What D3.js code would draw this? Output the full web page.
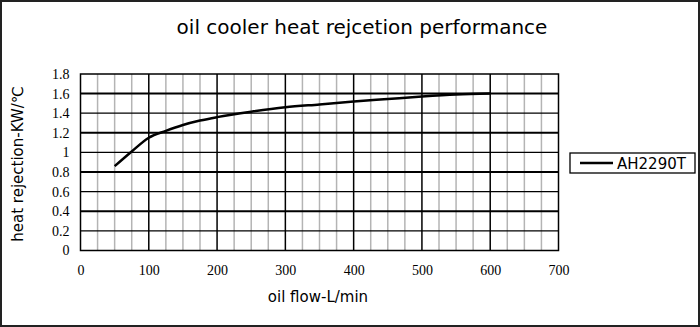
<!DOCTYPE html>
<html>
<head>
<meta charset="utf-8">
<script src="https://cdn.jsdelivr.net/npm/d3@7"></script>
<style>
  html, body { margin: 0; padding: 0; background: #fff; }
  svg { display: block; }
</style>
</head>
<body>
<script>
// Heat rejection curve of the AH2290T oil cooler
const flow = [50, 75, 100, 125, 150, 175, 200, 250, 300, 350, 400, 450, 500, 550, 600];
const heatRejection = [0.86, 1.01, 1.15, 1.22, 1.28, 1.325, 1.36, 1.415, 1.46, 1.49, 1.52, 1.545, 1.57, 1.59, 1.60];
const xTicks = [0, 100, 200, 300, 400, 500, 600, 700];
const yTicks = [0, 0.2, 0.4, 0.6, 0.8, 1, 1.2, 1.4, 1.6, 1.8];
const seriesName = "AH2290T";

const W = 700, H = 327;
const plot = { left: 80.5, right: 558.5, top: 74, bottom: 250.5 };

const svg = d3.select("body").append("svg").attr("width", W).attr("height", H);

// outer frame
svg.append("rect").attr("x", 1).attr("y", 1).attr("width", W - 2).attr("height", H - 2)
  .attr("fill", "#fff").attr("stroke", "#222").attr("stroke-width", 2);

const x = d3.scaleLinear().domain([0, 700]).range([plot.left, plot.right]);
const y = d3.scaleLinear().domain([0, 1.8]).range([plot.bottom, plot.top]);

const grid = svg.append("g");

// minor vertical grid every 25 L/min
d3.range(25, 700, 25).filter(v => v % 100 !== 0).forEach(v => {
  grid.append("line").attr("x1", x(v)).attr("x2", x(v)).attr("y1", y(0)).attr("y2", y(1.8))
    .attr("stroke", "#b4b4b4").attr("stroke-width", 1.5);
});
// horizontal grid
yTicks.slice(1, -1).forEach(v => {
  const thick = Math.round(v * 10) % 4 === 0;
  grid.append("line").attr("x1", x(0)).attr("x2", x(700)).attr("y1", y(v)).attr("y2", y(v))
    .attr("stroke", "#000").attr("stroke-width", thick ? 2 : 1.3);
});
// major vertical grid
xTicks.slice(1, -1).forEach(v => {
  grid.append("line").attr("x1", x(v)).attr("x2", x(v)).attr("y1", y(0)).attr("y2", y(1.8))
    .attr("stroke", "#000").attr("stroke-width", 1.5);
});
// plot frame
svg.append("rect").attr("x", x(0)).attr("y", y(1.8)).attr("width", x(700) - x(0)).attr("height", y(0) - y(1.8))
  .attr("fill", "none").attr("stroke", "#000").attr("stroke-width", 1.5);

// axes (labels only)
const tickFont = "'Liberation Serif', 'DejaVu Serif', serif";
const xAxis = svg.append("g").attr("transform", `translate(0,${plot.bottom})`)
  .call(d3.axisBottom(x).tickValues(xTicks).tickSize(0).tickPadding(15).tickFormat(d3.format("d")));
const yAxis = svg.append("g").attr("transform", `translate(${plot.left},0)`)
  .call(d3.axisLeft(y).tickValues(yTicks).tickSize(0).tickPadding(11)
    .tickFormat(d => d === 0 || d === 1 ? String(d) : d.toFixed(1)));
[xAxis, yAxis].forEach(a => {
  a.select(".domain").remove();
  a.attr("font-family", null).attr("font-size", null);
  a.selectAll("text").style("font-family", tickFont).style("font-size", "14px").attr("fill", "#000");
});

// data line
const line = d3.line().x((d, i) => x(flow[i])).y(d => y(d)).curve(d3.curveMonotoneX);
svg.append("path").datum(heatRejection).attr("d", line)
  .attr("fill", "none").attr("stroke", "#000").attr("stroke-width", 2.5);

// titles
const sans = "'DejaVu Sans', Verdana, sans-serif";
svg.append("text").attr("x", 362).attr("y", 34).attr("text-anchor", "middle")
  .style("font-family", sans).style("font-size", "20px").text("oil cooler heat rejcetion performance");
svg.append("text").attr("x", 318).attr("y", 302).attr("text-anchor", "middle")
  .style("font-family", sans).style("font-size", "15px").text("oil flow-L/min");
svg.append("text").attr("transform", "translate(23,164) rotate(-90)").attr("text-anchor", "middle")
  .style("font-family", sans).style("font-size", "15px").text("heat rejection-KW/\u2103");

// legend
const lg = svg.append("g");
lg.append("rect").attr("x", 570).attr("y", 153).attr("width", 125).attr("height", 20)
  .attr("fill", "#fff").attr("stroke", "#000").attr("stroke-width", 1.3);
lg.append("line").attr("x1", 580).attr("x2", 613).attr("y1", 163).attr("y2", 163)
  .attr("stroke", "#000").attr("stroke-width", 2.5);
lg.append("text").attr("x", 617).attr("y", 168.5).style("font-family", sans).style("font-size", "15px").text(seriesName);
</script>
</body>
</html>
